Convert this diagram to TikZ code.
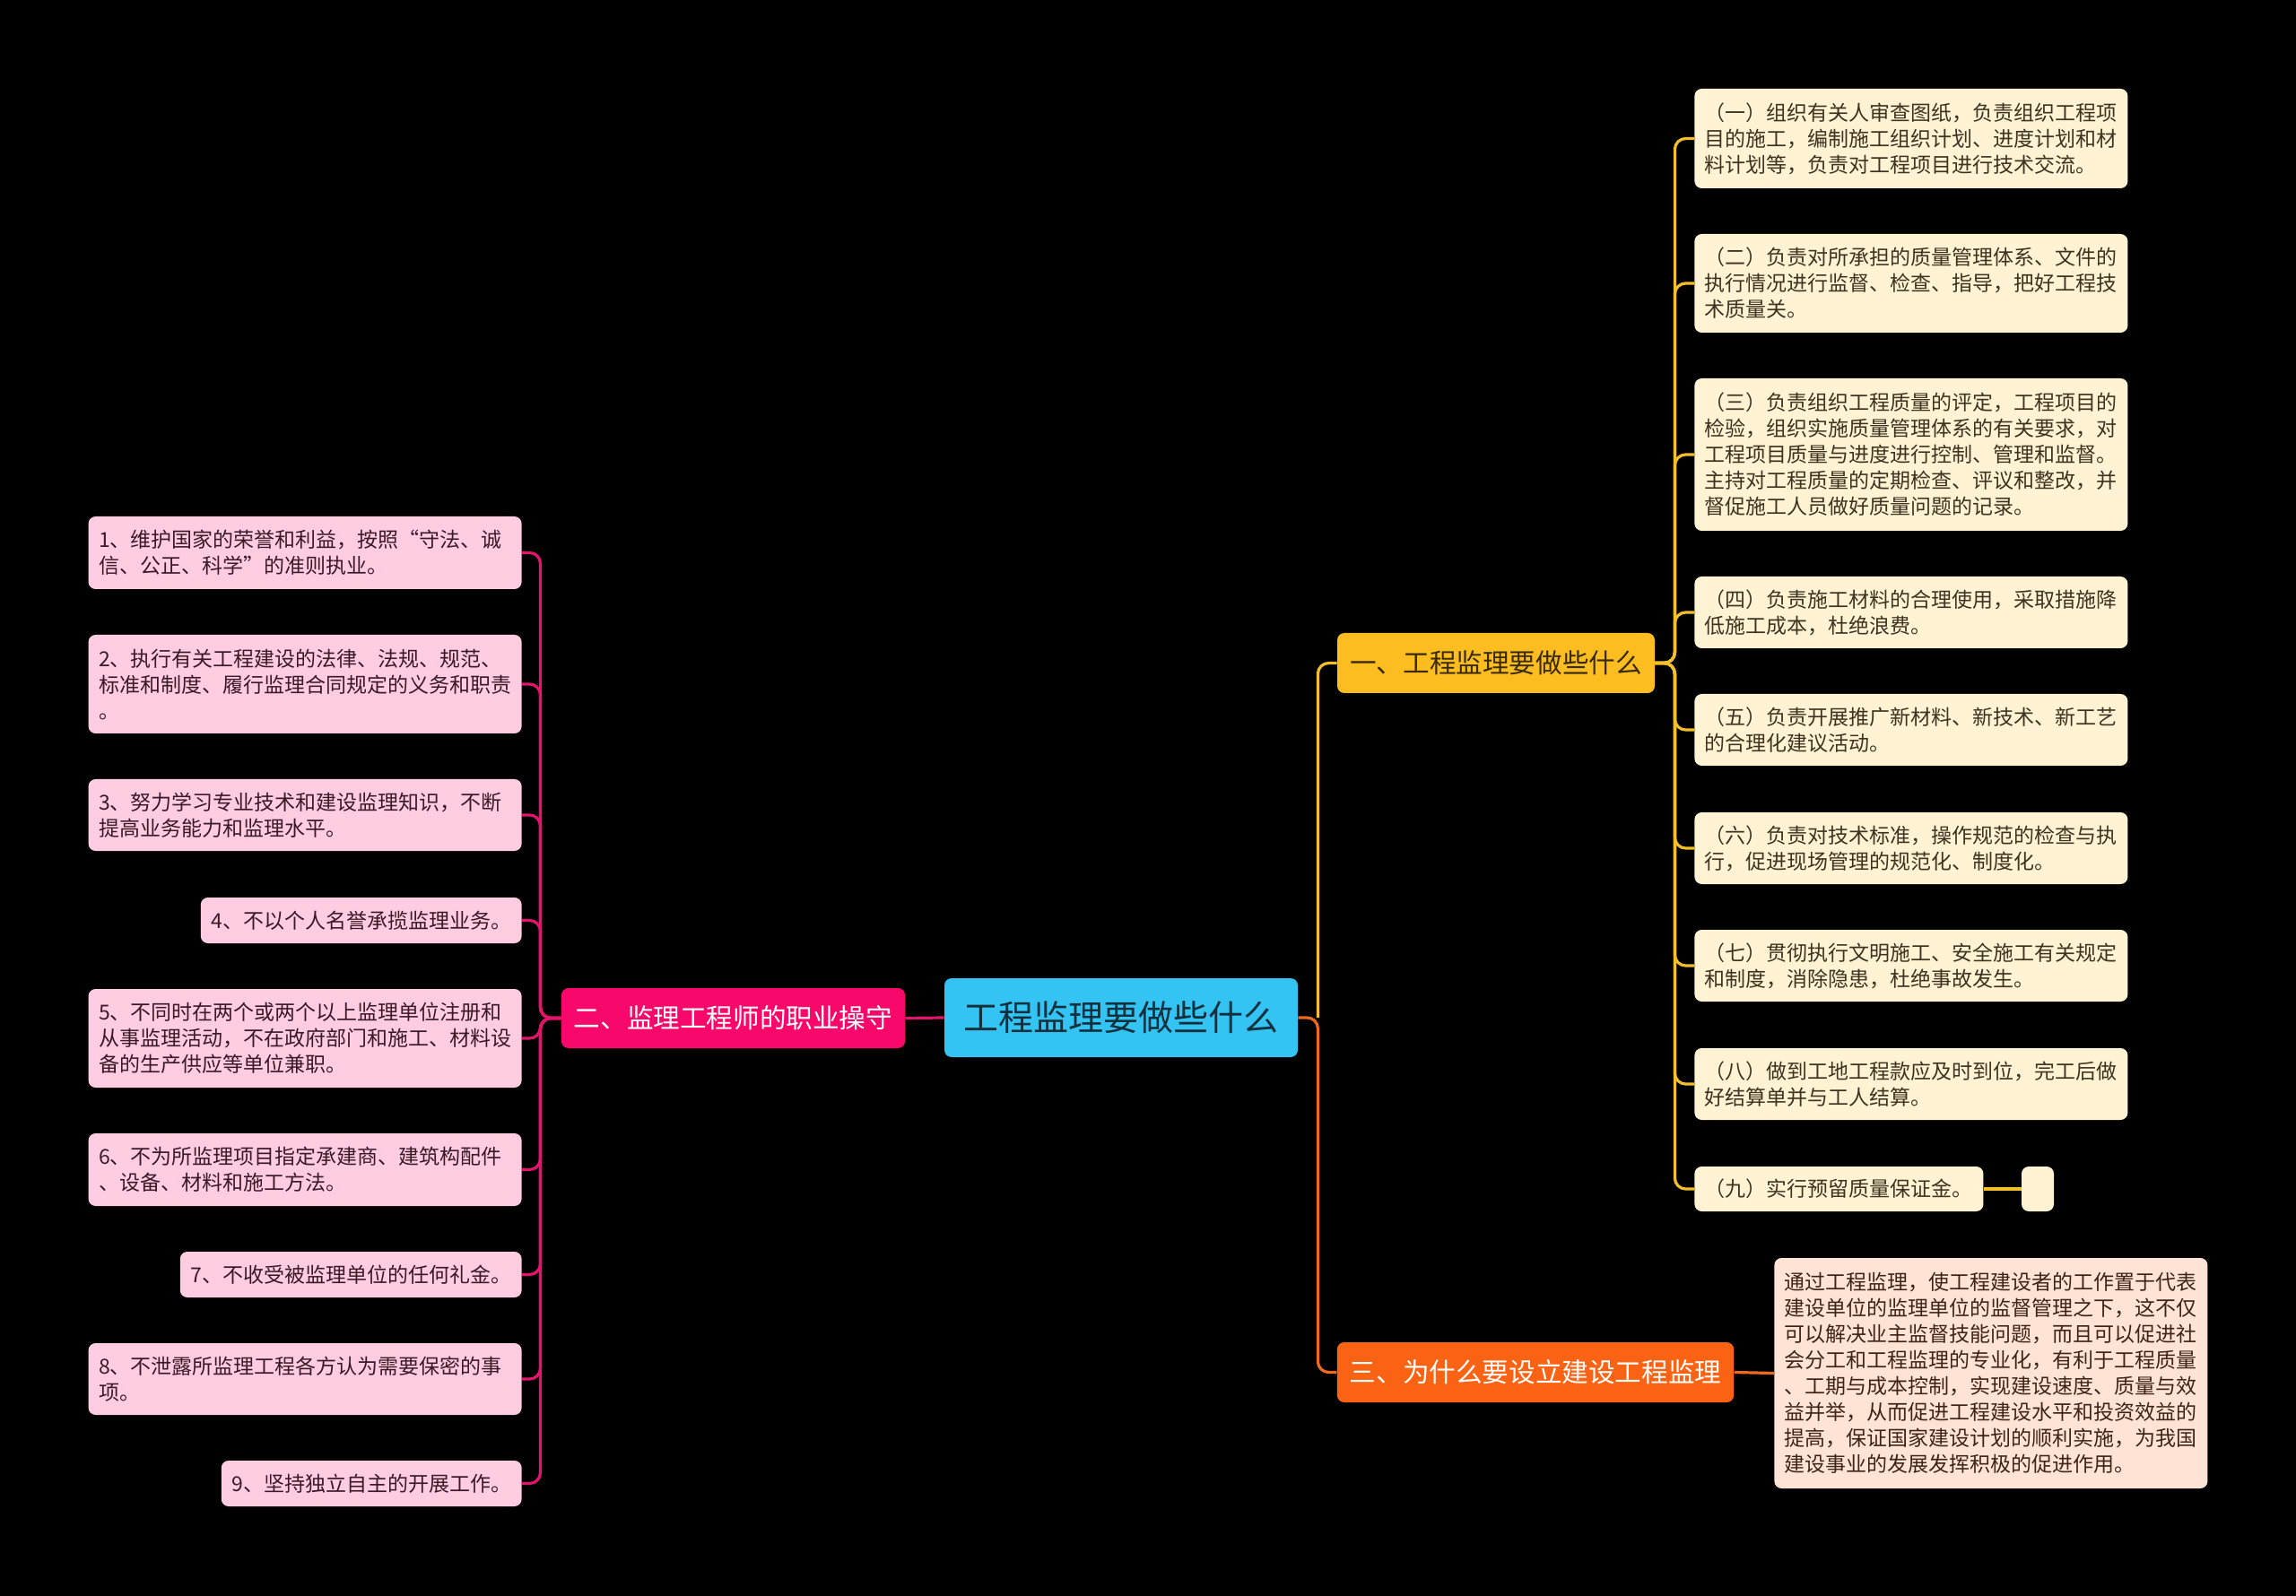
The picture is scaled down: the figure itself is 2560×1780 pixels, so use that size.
\documentclass[tikz,border=0pt]{standalone}
\usepackage{fontspec}
\setmainfont{Noto Sans CJK SC}
\usetikzlibrary{positioning,calc}

\definecolor{rootblue}{HTML}{33C4F3}
\definecolor{roottext}{HTML}{12303D}
\definecolor{topicyellow}{HTML}{FBBD20}
\definecolor{topicytext}{HTML}{3A2A05}
\definecolor{topicpink}{HTML}{F8086A}
\definecolor{topicorange}{HTML}{FA6313}
\definecolor{creamfill}{HTML}{FFF3D3}
\definecolor{creamtext}{HTML}{3D3320}
\definecolor{pinkfill}{HTML}{FFCCE1}
\definecolor{pinktext}{HTML}{3A1A28}
\definecolor{peachfill}{HTML}{FFE3D5}
\definecolor{peachtext}{HTML}{3E2418}
\definecolor{linkyellow}{HTML}{F3BF2A}
\definecolor{linkpink}{HTML}{E3146B}
\definecolor{linkorange}{HTML}{EE6A1E}

\begin{document}
\begin{tikzpicture}[x=0.5pt,y=-0.5pt,
    nodebox/.style={rounded corners=4pt, inner ysep=2pt},
    root/.style={nodebox, fill=rootblue, text=roottext, minimum width=197pt, minimum height=44pt,
        font=\fontsize{19.5}{22}\selectfont},
    topic/.style={nodebox, minimum height=33.5pt, inner xsep=7pt, font=\fontsize{14.8}{17}\selectfont},
    leaf/.style={nodebox, align=left, inner xsep=5.75pt, font=\fontsize{11.5}{14.5}\selectfont},
    wide/.style={text width=230pt},
    leafR/.style={leaf, fill=creamfill, text=creamtext, anchor=west},
    leafL/.style={leaf, fill=pinkfill, text=pinktext, anchor=east},
    link/.style={line width=1.6pt, rounded corners=6pt}
]
    \fill[black] (0,0) rectangle (2560,1780);

    \node[root] (root) at (1250,1135) {工程监理要做些什么};
    \node[topic, fill=topicpink, text=white, minimum width=191.5pt] (duty) at (817.5,1135.5) {二、监理工程师的职业操守};
    \node[topic, fill=topicyellow, text=topicytext, minimum width=177pt] (work) at (1668,739.5) {一、工程监理要做些什么};
    \node[topic, fill=topicorange, text=white, minimum width=221pt] (why) at (1712,1530.5) {三、为什么要设立建设工程监理};

    \node[leafR, wide, minimum height=55.5pt] (w1) at (1889,154.5) {（一）组织有关人审查图纸，负责组织工程项\\目的施工，编制施工组织计划、进度计划和材\\料计划等，负责对工程项目进行技术交流。};
    \node[leafR, wide, minimum height=55pt] (w2) at (1889,316) {（二）负责对所承担的质量管理体系、文件的\\执行情况进行监督、检查、指导，把好工程技\\术质量关。};
    \node[leafR, wide, minimum height=85pt] (w3) at (1889,507) {（三）负责组织工程质量的评定，工程项目的\\检验，组织实施质量管理体系的有关要求，对\\工程项目质量与进度进行控制、管理和监督。\\主持对工程质量的定期检查、评议和整改，并\\督促施工人员做好质量问题的记录。};
    \node[leafR, wide, minimum height=40pt] (w4) at (1889,683) {（四）负责施工材料的合理使用，采取措施降\\低施工成本，杜绝浪费。};
    \node[leafR, wide, minimum height=40pt] (w5) at (1889,814) {（五）负责开展推广新材料、新技术、新工艺\\的合理化建议活动。};
    \node[leafR, wide, minimum height=40pt] (w6) at (1889,946) {（六）负责对技术标准，操作规范的检查与执\\行，促进现场管理的规范化、制度化。};
    \node[leafR, wide, minimum height=40pt] (w7) at (1889,1077) {（七）贯彻执行文明施工、安全施工有关规定\\和制度，消除隐患，杜绝事故发生。};
    \node[leafR, wide, minimum height=40pt] (w8) at (1889,1209) {（八）做到工地工程款应及时到位，完工后做\\好结算单并与工人结算。};
    \node[leafR, minimum height=25pt] (w9) at (1889,1326) {（九）实行预留质量保证金。};
    \node[nodebox, fill=creamfill, minimum width=18pt, minimum height=25pt] (w9x) at (2272,1326) {};

    \node[leafL, wide, minimum height=40.5pt] (d1) at (582,616.5) {1、维护国家的荣誉和利益，按照“守法、诚\\信、公正、科学”的准则执业。};
    \node[leafL, wide, minimum height=55pt] (d2) at (582,763) {2、执行有关工程建设的法律、法规、规范、\\标准和制度、履行监理合同规定的义务和职责\\。};
    \node[leafL, wide, minimum height=40pt] (d3) at (582,909) {3、努力学习专业技术和建设监理知识，不断\\提高业务能力和监理水平。};
    \node[leafL, minimum height=25.5pt] (d4) at (582,1026.5) {4、不以个人名誉承揽监理业务。};
    \node[leafL, wide, minimum height=55pt] (d5) at (582,1158) {5、不同时在两个或两个以上监理单位注册和\\从事监理活动，不在政府部门和施工、材料设\\备的生产供应等单位兼职。};
    \node[leafL, wide, minimum height=40.5pt] (d6) at (582,1304.5) {6、不为所监理项目指定承建商、建筑构配件\\、设备、材料和施工方法。};
    \node[leafL, minimum height=25.5pt] (d7) at (582,1421.5) {7、不收受被监理单位的任何礼金。};
    \node[leafL, wide, minimum height=40pt] (d8) at (582,1538) {8、不泄露所监理工程各方认为需要保密的事\\项。};
    \node[leafL, minimum height=25.5pt] (d9) at (582,1654.5) {9、坚持独立自主的开展工作。};

    \node[leaf, wide, fill=peachfill, text=peachtext, anchor=west, minimum height=128.5pt] (why1) at (1978,1531.5) {通过工程监理，使工程建设者的工作置于代表\\建设单位的监理单位的监督管理之下，这不仅\\可以解决业主监督技能问题，而且可以促进社\\会分工和工程监理的专业化，有利于工程质量\\、工期与成本控制，实现建设速度、质量与效\\益并举，从而促进工程建设水平和投资效益的\\提高，保证国家建设计划的顺利实施，为我国\\建设事业的发展发挥积极的促进作用。};

    \draw[link, draw=linkpink] (root.west) -- (duty.east);
    \foreach \i in {1,...,9}
        \draw[link, draw=linkpink] (duty.west) -- ++(-23,0) |- (d\i.east);

    \draw[link, draw=linkorange] (root.east) -- ++(22,0) |- (why.west);
    \draw[link, draw=linkyellow] (root.east) ++(22,0) |- (work.west);
    \foreach \i in {1,...,9}
        \draw[link, draw=linkyellow] (work.east) -- ++(22,0) |- (w\i.west);
    \draw[link, draw=linkyellow] (w9.east) -- (w9x.west);
    \draw[link, draw=linkorange] (why.east) -- (why1.west);
\end{tikzpicture}
\end{document}
